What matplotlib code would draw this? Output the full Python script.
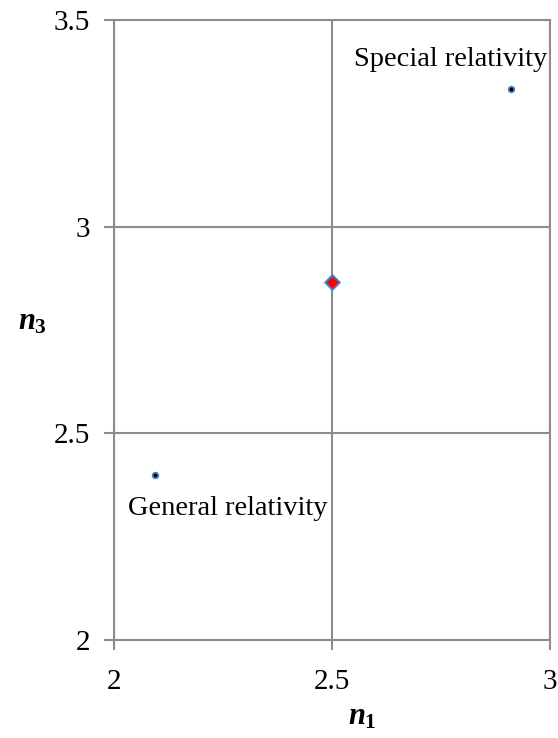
import matplotlib
matplotlib.use("Agg")
import matplotlib.pyplot as plt

plt.rcParams['font.family'] = ['Liberation Serif', 'DejaVu Serif']
plt.rcParams['mathtext.fontset'] = 'custom'
plt.rcParams['mathtext.it'] = 'Liberation Serif:italic:bold'
plt.rcParams['mathtext.rm'] = 'Liberation Serif:bold'
plt.rcParams['mathtext.bf'] = 'Liberation Serif:bold'

# Data
point_labels = ["General relativity", "Special relativity"]
n1_points = [2.095, 2.91]
n3_points = [2.4, 3.333]
n1_center = [2.5]
n3_center = [2.865]

xticks = [2, 2.5, 3]
xticklabels = ["2", "2.5", "3"]
yticks = [2, 2.5, 3, 3.5]
yticklabels = ["2", "2.5", "3", "3.5"]

W, H = 558, 738
fig = plt.figure(figsize=(W / 100, H / 100), dpi=100)
ax = fig.add_axes([0.204, 0.133, 0.782, 0.840])
gray = "#8c8c8c"

ax.scatter(n1_points, n3_points, s=16, facecolor="black", edgecolor="#4a7ebb",
           linewidth=1.3, zorder=3)
ax.scatter(n1_center, n3_center, marker="D", s=55, facecolor="red",
           edgecolor="#4a7ebb", linewidth=1.4, zorder=3)

ax.annotate(point_labels[0], (n1_points[0], n3_points[0]), xytext=(72, -34),
            textcoords="offset pixels", ha="center", va="center", fontsize=20.5)
ax.annotate(point_labels[1], (n1_points[1], n3_points[1]), xytext=(-60, 29),
            textcoords="offset pixels", ha="center", va="center", fontsize=20.5)

ax.set_xlim(2, 3)
ax.set_ylim(2, 3.5)
ax.set_xticks(xticks)
ax.set_xticklabels(xticklabels)
ax.set_yticks(yticks)
ax.set_yticklabels(yticklabels)
ax.grid(True, color=gray, linewidth=1.5)
ax.set_axisbelow(True)
for sp in ax.spines.values():
    sp.set_color(gray)
    sp.set_linewidth(1.5)
ax.tick_params(axis="both", direction="out", length=7, width=1.5, color=gray,
               labelsize=21, pad=14)
ax.tick_params(axis="y", pad=10)

fig.text(362 / W, 1 - 717 / H, r"$n_1$", fontsize=22, ha="center", va="center")
fig.text(32 / W, 1 - 322 / H, r"$n_3$", fontsize=22, ha="center", va="center")

fig.savefig("out.png", dpi=100, facecolor="white")
